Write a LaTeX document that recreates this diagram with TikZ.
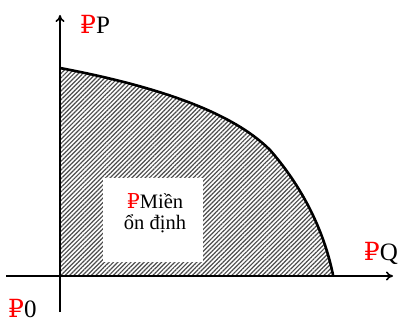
\documentclass[tikz,border=0pt]{standalone}
\usepackage{fontspec}
\setmainfont{Liberation Serif}
\newfontfamily\rubfont{DejaVu Serif}
\usetikzlibrary{patterns.meta,arrows.meta}
\newcommand\rubsign{\textcolor{red}{\rubfont ₽}}
\tikzset{
  axis/.style={line width=1.6pt,-{To[length=7pt,width=9pt]}},
  bigl/.style={inner sep=0pt,font=\fontsize{25}{28}\selectfont},
  hatch/.style={pattern={Lines[angle=45,distance=3.1pt,line width=1.2pt]},pattern color=black!70},
}
\begin{document}
\begin{tikzpicture}[x=1pt,y=-1pt]
\useasboundingbox (0,0) rectangle (398,323);
\coordinate (a) at (60,68);
\coordinate (b) at (333,275);
\coordinate (c) at (60,275);
\fill[hatch] (a) .. controls (150,85) and (230,110) .. (270,150) .. controls (305,190) and (325,235) .. (b) -- (c) -- cycle;
\node[fill=white,minimum width=100pt,minimum height=84pt,inner sep=0pt] (box) at (153,220) {};
\node[align=center,font=\fontsize{20.5}{21.5}\selectfont] (txt) at (155,213) {\rubsign Miền\\ổn định};
\coordinate (yb) at (60,312);
\coordinate (yt) at (60,15);
\coordinate (xl) at (6,276);
\coordinate (xr) at (393,276);
\draw[axis] (yb) -- (yt);
\draw[axis] (xl) -- (xr);
\draw[line width=2.6pt] (a) .. controls (150,85) and (230,110) .. (270,150) .. controls (305,190) and (325,235) .. (b);
\node[bigl,anchor=west] (lp) at (80,24) {\rubsign P};
\node[bigl,anchor=east] (lq) at (398,253) {\rubsign Q};
\node[bigl,anchor=west] (lo) at (8,309) {\rubsign 0};
\end{tikzpicture}
\end{document}
